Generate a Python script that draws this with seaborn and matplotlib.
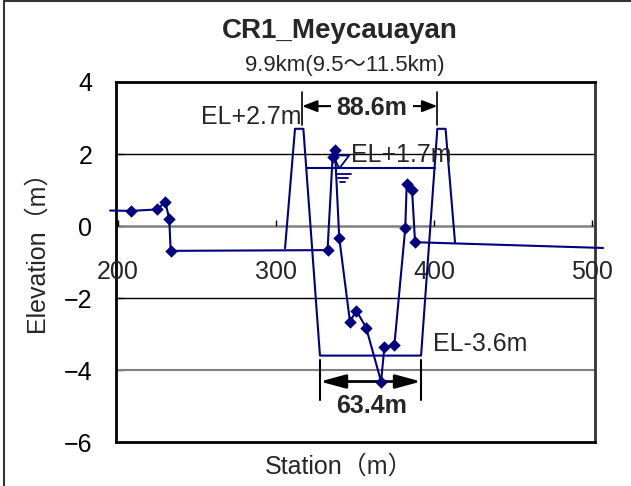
import matplotlib
matplotlib.use('Agg')
import matplotlib.pyplot as plt
from matplotlib.lines import Line2D
import seaborn as sns
import pandas as pd

# surveyed ground profile (station m, elevation m); first/last are line ends only
ground_station = [195.0, 208.2, 224.9, 229.9, 232.4, 233.3, 332.6, 335.8, 337.3, 340.0,
                  346.8, 350.8, 357.0, 366.5, 368.6, 374.9, 381.8, 382.7, 386.1, 388.0, 507.0]
ground_elev = [0.43, 0.42, 0.46, 0.68, 0.19, -0.69, -0.67, 1.91, 2.11, -0.33,
               -2.66, -2.35, -2.82, -4.32, -3.35, -3.31, -0.06, 1.16, 1.00, -0.45, -0.61]

# design cross section (levees + channel)
design_station = [305.7, 312.0, 317.3, 327.8, 391.8, 402.1, 407.3, 413.3]
design_elev = [-0.62, 2.7, 2.7, -3.6, -3.6, 2.7, 2.7, -0.46]

# design water level
water_station = [319.3, 400.6]
water_elev = 1.6
water_mark_station = 340.0

x_ticks = [200, 300, 400, 500]
y_ticks = [-6, -4, -2, 0, 2, 4]

top_width = (317.3, 402.1, 3.33, '88.6m')
bottom_width = (327.8, 391.8, -4.32, '63.4m')

navy = '#000080'

sns.set_theme(style='white')
plt.rcParams['font.family'] = ['Liberation Sans', 'Noto Sans CJK JP']

fig = plt.figure(figsize=(6.31, 4.86), dpi=100)
ax = fig.add_axes([116 / 631, 44 / 486, 479 / 631, 360 / 486])
ax.set_xlim(198.7, 501.9)
ax.set_ylim(-6, 4)

# gridlines
for yv in [2, -2]:
    ax.axhline(yv, color='black', lw=1.0, zorder=1)
ax.axhline(-4, color='#808080', lw=1.5, zorder=1)

# x axis crossing at elevation 0
ax.axhline(0, color='#808080', lw=1.8, zorder=1)
ax.vlines(x_ticks, 0, 0.17, color='black', lw=1, zorder=1)
for xv in x_ticks:
    ax.text(xv, -0.95, str(xv), ha='center', va='top', fontsize=18, clip_on=False)

ground = pd.DataFrame({'station': ground_station, 'elev': ground_elev})
sns.lineplot(data=ground, x='station', y='elev', sort=False, estimator=None,
             color=navy, lw=1.5, ax=ax, zorder=3)
ax.lines[-1].set_clip_on(False)
sns.scatterplot(data=ground.iloc[1:-1], x='station', y='elev', marker='D', s=40,
                color=navy, edgecolor=navy, linewidth=0, ax=ax, zorder=5)

design = pd.DataFrame({'station': design_station, 'elev': design_elev})
sns.lineplot(data=design, x='station', y='elev', sort=False, estimator=None,
             color=navy, lw=1.5, ax=ax, zorder=3)
ax.plot(water_station, [water_elev, water_elev], color=navy, lw=1.5, zorder=3)

# water level symbol
wx, wy = water_mark_station, water_elev
ax.plot([wx - 3.8, wx + 6.3, wx, wx - 3.8], [wy + 0.36, wy + 0.36, wy, wy + 0.36],
        color=navy, lw=1.3, zorder=4)
for dy, x0, x1 in [(0.16, -1.7, 7.2), (0.28, -0.8, 5.6), (0.38, 0.5, 3.7)]:
    ax.plot([wx + x0, wx + x1], [wy - dy, wy - dy], color=navy, lw=1.3, zorder=4)

# dimension: top width
x0, x1, yd, lab = top_width
for xv in (x0 - 0.8, x1):
    ax.plot([xv, xv], [2.81, 3.72], color='black', lw=1.2, clip_on=False)
ax.annotate('', xy=(x1, yd), xytext=(x0 - 0.8, yd),
            arrowprops=dict(arrowstyle='<|-|>,head_length=0.9,head_width=0.35',
                            color='black', lw=1.5, shrinkA=0, shrinkB=0, mutation_scale=10))
ax.text((x0 + x1) / 2 + 1, yd - 0.04, lab, ha='center', va='center', fontsize=18,
        fontweight='bold', bbox=dict(facecolor='white', edgecolor='none', pad=4), zorder=6)

# dimension: bottom width
x0, x1, yd, lab = bottom_width
for xv in (x0, x1):
    ax.plot([xv, xv], [-3.72, -4.83], color='black', lw=1.5, zorder=2)
ax.annotate('', xy=(x1, yd), xytext=(x0, yd),
            arrowprops=dict(arrowstyle='<|-|>,head_length=1.55,head_width=0.42',
                            color='black', lw=2, shrinkA=0, shrinkB=0, mutation_scale=10),
            zorder=2)
ax.text((x0 + x1) / 2 + 0.7, -5.0, lab, ha='center', va='center', fontsize=18,
        fontweight='bold')

# elevation labels
ax.text(316.2, 3.04, 'EL+2.7m', ha='right', va='center', fontsize=18)
ax.text(347.7, 1.97, 'EL+1.7m', ha='left', va='center', fontsize=18)
ax.text(399.5, -3.28, 'EL-3.6m', ha='left', va='center', fontsize=18)

# axes styling
for side in ['left', 'top', 'bottom', 'right']:
    ax.spines[side].set_color('black')
    ax.spines[side].set_linewidth(2)
ax.spines['right'].set_color('#333333')
ax.set_xlabel('')
ax.set_ylabel('')
ax.tick_params(axis='x', bottom=False, labelbottom=False)
ax.set_yticks(y_ticks)
ax.set_yticklabels([f'{v}'.replace('-', '\u2212') for v in y_ticks])
ax.tick_params(axis='y', left=True, direction='in', length=6, width=1, pad=17,
               labelsize=18, colors='black')

fig.text(37 / 631, 1 - 245 / 486, 'Elevation\uff08m\uff09', rotation=90, ha='center',
         va='center', fontsize=18)
fig.text(339 / 631, 1 - 467 / 486, 'Station\uff08m\uff09', ha='center', va='center', fontsize=18)
fig.text(340 / 631, 1 - 31 / 486, 'CR1_Meycauayan', ha='center', va='center', fontsize=20,
         fontweight='bold')
fig.text(345 / 631, 1 - 66 / 486, '9.9km(9.5\uff5e11.5km)', ha='center', va='center',
         fontsize=16)

# outer frame (left and top edges)
fig.add_artist(Line2D([3.5 / 631, 3.5 / 631], [0, 1 - 1.5 / 486], transform=fig.transFigure,
                      color='#333333', lw=1.5))
fig.add_artist(Line2D([3.5 / 631, 1], [1 - 1.5 / 486, 1 - 1.5 / 486], transform=fig.transFigure,
                      color='#333333', lw=1.5))

fig.savefig('out.png', dpi=100)
